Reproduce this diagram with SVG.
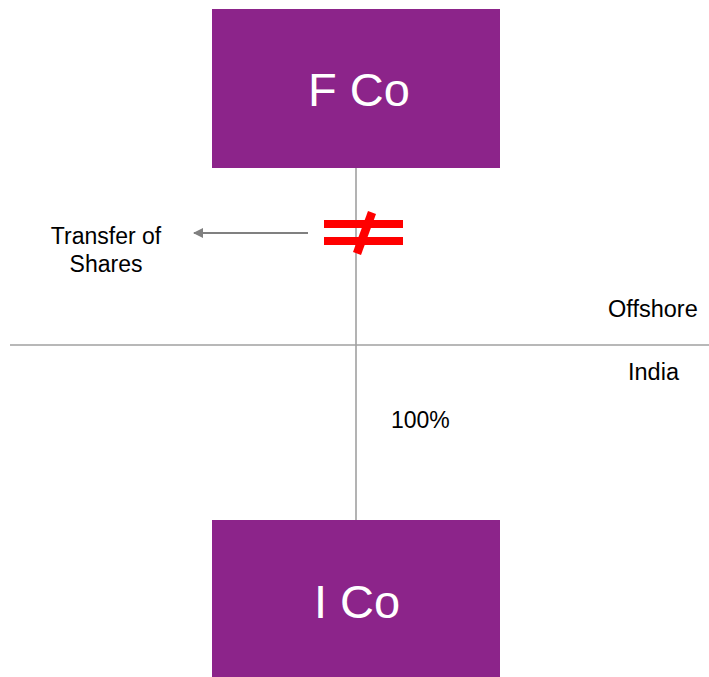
<svg xmlns="http://www.w3.org/2000/svg" width="709" height="677" viewBox="0 0 709 677">
<defs>
<style>
.box{fill:#8C248A;}
.boxtxt{font-family:"Liberation Sans",Arial,sans-serif;font-size:47px;fill:#ffffff;text-anchor:middle;}
.lbl{font-family:"Liberation Sans",Arial,sans-serif;font-size:23px;fill:#000000;}
.ln{stroke:#A0A0A0;stroke-width:1.6;fill:none;}
.neq{fill:#FF0000;}
</style>
<marker id="ah" markerWidth="10" markerHeight="10" refX="9" refY="5" orient="auto" markerUnits="userSpaceOnUse" viewBox="0 0 10 10">
<path d="M0,0 L10,5 L0,10 Z" fill="#808080"/>
</marker>
</defs>
<g id="connectors">
<line class="ln" x1="356" y1="168" x2="356" y2="520"/>
<line class="ln" x1="10" y1="345" x2="709" y2="345"/>
<line x1="308" y1="233" x2="194" y2="233" stroke="#808080" stroke-width="2.2" marker-end="url(#ah)"/>
<g id="not-equal">
<rect class="neq" x="324" y="220" width="79" height="8"/>
<rect class="neq" x="324" y="237" width="79" height="8"/>
<polygon class="neq" points="368,211 376,214 361,255 353,252"/>
</g>
</g>
<g id="fco">
<rect class="box" x="212" y="9" width="288" height="159"/>
<text class="boxtxt" x="359" y="106">F Co</text>
</g>
<g id="ico">
<rect class="box" x="212" y="520" width="288" height="157"/>
<text class="boxtxt" x="357" y="618">I Co</text>
</g>
<g id="labels">
<text class="lbl" x="106" y="244" text-anchor="middle">Transfer of</text>
<text class="lbl" x="106" y="272" text-anchor="middle">Shares</text>
<text class="lbl" x="608" y="317" style="font-size:23.5px">Offshore</text>
<text class="lbl" x="628" y="380" style="font-size:23.5px">India</text>
<text class="lbl" x="391" y="428">100%</text>
</g>
</svg>
